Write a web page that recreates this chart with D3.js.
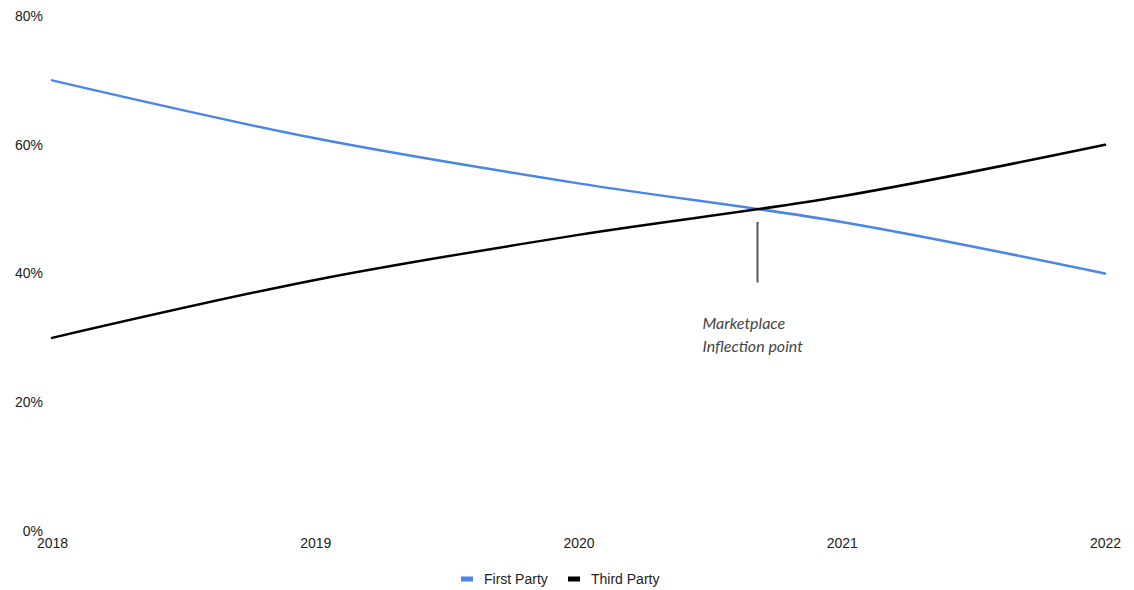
<!DOCTYPE html>
<html>
<head>
<meta charset="utf-8">
<script src="https://cdn.jsdelivr.net/npm/d3@7"></script>
<style>
  html, body { margin: 0; padding: 0; background: #fff; }
  svg { display: block; }
  text { font-family: "Liberation Sans", Arial, sans-serif; }
</style>
</head>
<body>
<svg id="chart" width="1134" height="590"></svg>
<script>
// Share of sales, first party vs third party
const years = [2018, 2019, 2020, 2021, 2022];
const firstParty = [70, 61, 54, 48, 40];
const thirdParty = [30, 39, 46, 52, 60];
const yTicks = [0, 20, 40, 60, 80];
const seriesNames = ["First Party", "Third Party"];
const seriesColors = ["#4a86e8", "#000000"];
// Crossover annotation
const noteYear = [2020.68];
const noteLines = ["Marketplace", "Inflection point"];

const svg = d3.select("#chart");
const margin = { left: 52, right: 29, top: 16, bottom: 59 };
const W = 1134, H = 590;

const x = d3.scaleLinear().domain([2018, 2022]).range([margin.left, W - margin.right]);
const y = d3.scaleLinear().domain([0, 80]).range([H - margin.bottom, margin.top]);

// y axis labels
const yAxis = d3.axisLeft(y).tickValues(yTicks).tickFormat(d => d + "%").tickSize(0).tickPadding(9);
const gy = svg.append("g").attr("transform", `translate(${margin.left},0)`).call(yAxis);
gy.select(".domain").remove();
gy.selectAll("text").attr("font-size", 14).attr("fill", "#222")
  .attr("font-family", "'Liberation Sans', Arial, sans-serif");

// x axis labels
const xAxis = d3.axisBottom(x).tickValues(years).tickFormat(d3.format("d")).tickSize(0).tickPadding(7);
const gx = svg.append("g").attr("transform", `translate(0,${H - margin.bottom})`).call(xAxis);
gx.select(".domain").remove();
gx.selectAll("text").attr("font-size", 14).attr("fill", "#222")
  .attr("font-family", "'Liberation Sans', Arial, sans-serif");

// series lines
const series = [firstParty, thirdParty];
const line = d3.line()
  .x((d, i) => x(years[i]))
  .y(d => y(d))
  .curve(d3.curveMonotoneX);

series.forEach((vals, k) => {
  svg.append("path")
    .datum(vals)
    .attr("d", line)
    .attr("fill", "none")
    .attr("stroke", seriesColors[k])
    .attr("stroke-width", 2.5)
    .attr("stroke-linecap", "round");
});

// annotation marker
const nx = x(noteYear[0]);
svg.append("line")
  .attr("x1", nx).attr("x2", nx)
  .attr("y1", y(48)).attr("y2", y(38.6))
  .attr("stroke", "#555").attr("stroke-width", 2);

const note = svg.append("text")
  .attr("x", nx - 55)
  .attr("y", y(31.4))
  .attr("font-size", 16)
  .attr("font-style", "italic")
  .attr("fill", "#444")
  .style("font-family", "Lato, 'DejaVu Sans', sans-serif");
noteLines.forEach((t, i) => {
  note.append("tspan").attr("x", nx - 55).attr("dy", i === 0 ? 0 : 23).text(t);
});

// legend
const legend = svg.append("g").attr("transform", `translate(461,579)`);
const legendX = [0, 107];
seriesNames.forEach((name, k) => {
  const g = legend.append("g").attr("transform", `translate(${legendX[k]},0)`);
  g.append("rect").attr("x", 0).attr("y", -2.5).attr("width", 12).attr("height", 5)
    .attr("fill", seriesColors[k]);
  g.append("text").attr("x", 23).attr("y", 0).attr("dy", "0.35em")
    .attr("font-size", 14).attr("fill", "#222").text(name);
});
</script>
</body>
</html>
